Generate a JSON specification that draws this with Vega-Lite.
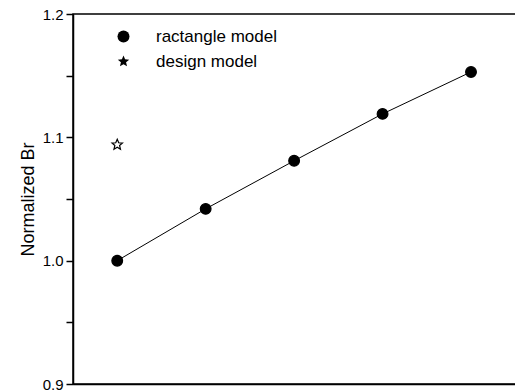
{
  "$schema": "https://vega.github.io/schema/vega-lite/v6.json",
  "width": 444,
  "height": 370,
  "autosize": {"type": "none"},
  "padding": {"left": 73, "top": 14, "right": 0, "bottom": 6},
  "background": "white",
  "config": {
    "view": {"stroke": "black", "strokeWidth": 1.5},
    "font": "Liberation Sans",
    "axis": {"domainColor": "black", "domainWidth": 1.5, "tickColor": "black", "labelColor": "black", "titleColor": "black", "grid": false}
  },
  "data": {
    "values": [
      {"case": 1, "Br": 1.0, "model": "ractangle model"},
      {"case": 2, "Br": 1.042, "model": "ractangle model"},
      {"case": 3, "Br": 1.081, "model": "ractangle model"},
      {"case": 4, "Br": 1.119, "model": "ractangle model"},
      {"case": 5, "Br": 1.153, "model": "ractangle model"},
      {"case": 1, "Br": 1.094, "model": "design model"}
    ]
  },
  "encoding": {
    "x": {"field": "case", "type": "quantitative", "scale": {"domain": [0.5, 5.52], "nice": false, "zero": false},
          "axis": {"title": null, "labels": false, "ticks": false}},
    "y": {"field": "Br", "type": "quantitative", "scale": {"domain": [0.9, 1.2], "nice": false, "zero": false},
          "axis": {"title": "Normalized Br", "titleFontSize": 18, "titleFontWeight": "normal", "titlePadding": 5,
                   "values": [0.9, 0.95, 1.0, 1.05, 1.1, 1.15, 1.2],
                   "labelExpr": "abs(datum.value*10 - round(datum.value*10)) < 0.01 ? format(datum.value, '.1f') : ''",
                   "labelFontSize": 15, "labelPadding": 3,
                   "tickSize": 7,
                   "tickWidth": 1.5}}
  },
  "layer": [
    {
      "transform": [{"filter": "datum.model == 'ractangle model'"}],
      "mark": {"type": "line", "color": "black", "strokeWidth": 1}
    },
    {
      "transform": [{"filter": "datum.model == 'ractangle model'"}],
      "mark": {"type": "point", "filled": true, "fill": "black", "stroke": "black", "strokeWidth": 1.2, "size": 115, "opacity": 1},
      "encoding": {
        "shape": {"field": "model", "type": "nominal",
                  "scale": {"domain": ["ractangle model", "design model"],
                            "range": ["circle", "M0,-1L0.265,-0.364L0.951,-0.309L0.428,0.139L0.588,0.809L0,0.45L-0.588,0.809L-0.428,0.139L-0.951,-0.309L-0.265,-0.364Z"]},
                  "legend": {"title": null, "orient": "none", "legendX": 42, "legendY": 14, "padding": 0,
                             "symbolSize": 144, "labelFontSize": 17, "labelOffset": 24, "rowPadding": 7, "labelColor": "black",
                             "symbolStrokeColor": "black", "symbolStrokeWidth": 1.2,
                             "encode": {
                               "symbols": {"update": {
                                 "shape": {"signal": "datum.value == 'ractangle model' ? 'M-4,0H-1M1,0H4M-1,0A1,1,0,1,1,1,0A1,1,0,1,1,-1,0Z' : 'M0,-1L0.265,-0.364L0.951,-0.309L0.428,0.139L0.588,0.809L0,0.45L-0.588,0.809L-0.428,0.139L-0.951,-0.309L-0.265,-0.364Z'"},
                                 "size": {"signal": "datum.value == 'ractangle model' ? 144 : 110"},
                                 "fill": {"signal": "datum.value == 'ractangle model' ? 'black' : 'white'"},
                                 "stroke": {"value": "black"},
                                 "strokeWidth": {"value": 1.2},
                                 "opacity": {"value": 1}
                               }},
                               "labels": {"update": {"fontStyle": {"signal": "datum.value == 'design model' ? 'italic' : 'normal'"}}}
                             }}}
      }
    },
    {
      "transform": [{"filter": "datum.model == 'design model'"}],
      "mark": {"type": "point", "filled": true, "fill": "white", "stroke": "black", "strokeWidth": 1.2, "size": 121, "opacity": 1},
      "encoding": {
        "shape": {"field": "model", "type": "nominal"}
      }
    }
  ]
}
